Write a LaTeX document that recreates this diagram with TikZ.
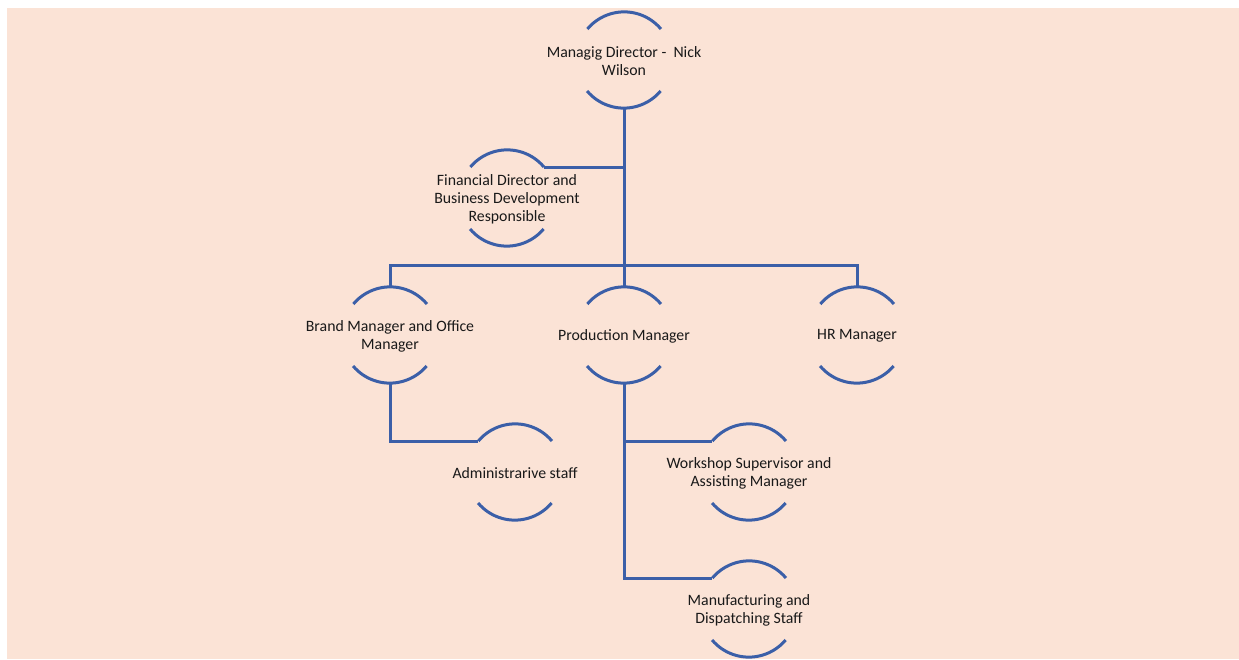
\documentclass[tikz,border=0pt]{standalone}
\usepackage{fontspec}
\setmainfont{Carlito}
\usepackage{tikz}
\definecolor{orgblue}{RGB}{59,95,168}
\definecolor{orgpeach}{RGB}{251,227,214}

\begin{document}
\begin{tikzpicture}[x=1pt,y=1pt,
ring/.style={circle, minimum size=96pt, inner sep=0pt},
caption/.style={align=center, text=black!90, yshift=-1pt, font=\fontsize{15.8}{18}\selectfont},
link/.style={draw=orgblue, line width=3pt}
]
\useasboundingbox (0,0) rectangle (1239,659);
\fill[orgpeach] (7,0) rectangle (1239,651);

% members
\node[ring] (md) at (624,599) {};
\node[caption] at (md) {Managig Director - ~Nick\\Wilson};
\node[ring] (fd) at (507,461) {};
\node[caption] at (fd) {Financial Director and\\Business Development\\Responsible};
\node[ring] (bm) at (390,324) {};
\node[caption] at (bm) {Brand Manager and Office\\Manager};
\node[ring] (pm) at (624,324) {};
\node[caption] at (pm) {Production Manager};
\node[ring] (hr) at (857,324) {};
\node[caption] at (hr) {HR Manager};
\node[ring] (adm) at (515,187) {};
\node[caption] at (adm) {Administrarive staff};
\node[ring] (ws) at (749,187) {};
\node[caption] at (ws) {Workshop Supervisor and\\Assisting Manager};
\node[ring] (mfg) at (749,50) {};
\node[caption] at (mfg) {Manufacturing and\\Dispatching Staff};

\foreach \n in {md,fd,bm,pm,hr,adm,ws,mfg} {
  \draw[link] (\n.40) arc[start angle=40, end angle=140, radius=48pt];
  \draw[link] (\n.220) arc[start angle=220, end angle=320, radius=48pt];
}

% links
\coordinate (bus) at (624,393);
\draw[link] (md.south) -- (pm.north);
\draw[link] (fd.40) -- (fd.40 -| md.south);
\draw[link] (bm.north) |- (hr.north |- bus) -- (hr.north);
\draw[link] (bm.south) |- (adm.140);
\draw[link] (pm.south) |- (ws.140);
\draw[link] (pm.south) |- (mfg.140);
\end{tikzpicture}
\end{document}
